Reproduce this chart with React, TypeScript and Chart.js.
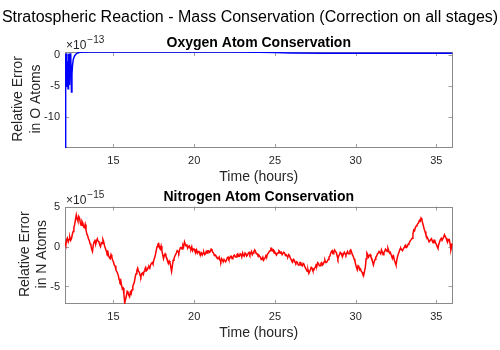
import React, { useEffect, useRef } from "react";
import { Chart, registerables } from "chart.js";

Chart.register(...registerables);

// ---------------- data ----------------
const MAIN_TITLE = "Stratospheric Reaction - Mass Conservation (Correction on all stages)";
const X_LABEL = "Time (hours)";
const X_MIN = 12;
const X_MAX = 36;
const X_TICKS = [15, 20, 25, 30, 35];

const O_TITLE = "Oxygen Atom Conservation";
const O_YLABEL = ["Relative Error", "in O Atoms"];
const O_EXPONENT = "\u221213";
const O_Y_MIN = -14.9;
const O_Y_MAX = 0.5;
const O_Y_TICKS = [-10, -5, 0];
const O_TIMES = [
  12.0, 12.02, 12.04, 12.06, 12.08, 12.1, 12.13, 12.16, 12.19, 12.22, 12.25, 12.28,
  12.31, 12.34, 12.37, 12.4, 12.43, 12.47, 12.52, 12.6, 12.7, 12.8, 12.9, 13.5,
  15, 17, 20, 22, 24, 25, 26, 28, 30, 32, 34, 36,
];
const O_VALUES = [
  -14.9, 0.2, -11.5, -2.0, -4.5, 0.3, -5.0, -1.0, -5.4, 0.2, -3.5, -4.8,
  0.3, -2.0, 0.1, -5.9, -3.0, -1.5, -0.6, -0.1, 0.2, 0.35, 0.44, 0.48,
  0.5, 0.49, 0.48, 0.48, 0.46, 0.4, 0.33, 0.3, 0.31, 0.3, 0.31, 0.3,
];

const N_TITLE = "Nitrogen Atom Conservation";
const N_YLABEL = ["Relative Error", "in N Atoms"];
const N_EXPONENT = "\u221215";
const N_Y_MIN = -7.2;
const N_Y_MAX = 5.05;
const N_Y_TICKS = [-5, 0, 5];
const N_T0 = 12;
const N_DT = 0.05;
const N_VALUES = [
  0.5, 0.2, 0.9, 1.1, 0.6, 0.9, 1.2, 0.8, 1.0, 1.5, 1.9, 2.4, 2.8, 3.4, 4.0, 3.5, 3.2, 3.8, 3.6, 3.0,
  2.7, 3.2, 3.0, 2.5, 2.4, 2.8, 2.1, 1.6, 1.4, 1.0, 0.8, 0.4, 0.2, -0.3, -0.6, 0.2, 0.6, 0.9, 0.3, 0.7,
  1.0, 0.7, 0.6, 0.2, 0.0, 0.5, 0.4, 0.9, 0.6, 0.1, -0.2, -0.5, -0.8, -0.6, -1.1, -1.4, -1.5, -1.0, -1.3, -1.7,
  -1.9, -2.3, -2.4, -2.9, -3.1, -3.3, -3.6, -4.1, -4.4, -4.2, -4.8, -5.3, -5.2, -6.0, -7.1, -6.6, -6.2, -5.6, -5.7, -6.1,
  -6.3, -5.7, -5.9, -5.4, -5.0, -4.7, -4.4, -3.8, -3.4, -3.0, -2.7, -3.1, -3.2, -3.6, -3.8, -3.4, -3.3, -3.5, -3.1, -2.8,
  -2.6, -3.0, -2.9, -2.6, -2.5, -2.7, -2.3, -2.1, -2.0, -2.2, -1.7, -1.4, -1.0, -0.5, 0.0, 0.3, 0.4, -0.1, -0.3, 0.1,
  -0.5, -1.0, -1.5, -1.1, -0.9, -1.2, -1.4, -1.8, -2.1, -1.8, -2.0, -2.5, -3.1, -2.4, -1.7, -1.5, -1.2, -1.0, -0.8, -0.5,
  -0.6, -0.8, -0.4, -0.1, -0.1, -0.3, 0.2, 0.0, 0.6, 0.3, 0.1, 0.3, -0.2, 0.0, 0.1, -0.2, -0.3, 0.0, -0.5, -0.3,
  -0.3, -0.6, -0.7, -0.4, -0.8, -0.6, -0.6, -0.9, -1.0, -0.8, -1.05, -0.8, -0.7, -1.0, -0.9, -0.6, -0.8, -0.5, -0.5, -0.7,
  -0.6, -0.3, -0.4, -0.7, -0.8, -1.1, -1.05, -1.2, -1.3, -1.5, -1.5, -1.3, -1.7, -1.9, -1.5, -1.7, -1.9, -1.6, -1.6, -1.9,
  -1.7, -1.4, -1.3, -1.6, -1.5, -1.2, -1.2, -1.5, -1.4, -1.1, -1.05, -1.3, -1.3, -1.0, -0.9, -1.2, -1.2, -0.9, -1.0, -1.3,
  -0.8, -1.1, -1.2, -0.8, -0.9, -1.2, -1.1, -0.8, -0.7, -1.0, -0.8, -0.6, -1.0, -0.8, -0.6, -0.4, -0.6, -0.9, -0.9, -1.1,
  -1.05, -1.2, -1.3, -1.6, -1.5, -1.3, -1.7, -1.5, -1.4, -1.1, -1.2, -0.9, -0.8, -0.6, -0.5, -0.2, -0.2, -0.5, -0.4, -0.8,
  -0.7, -0.9, -1.05, -0.8, -0.8, -0.5, -0.6, -0.8, -0.7, -1.0, -1.0, -0.7, -0.8, -1.1, -1.0, -1.2, -1.26, -1.0, -1.1, -1.4,
  -1.6, -1.8, -1.9, -1.6, -1.7, -2.0, -2.1, -1.9, -2.0, -2.3, -2.3, -2.0, -2.0, -2.3, -2.4, -2.1, -2.2, -2.5, -2.7, -2.9,
  -3.1, -2.9, -3.35, -3.1, -2.9, -2.6, -2.7, -3.0, -3.0, -2.7, -2.6, -2.3, -2.4, -2.0, -2.1, -2.4, -2.4, -2.1, -2.0, -2.3,
  -2.2, -1.9, -1.7, -2.0, -2.0, -1.8, -1.6, -1.3, -1.2, -0.9, -0.6, -0.5, -0.9, -0.6, -0.4, -0.6, -0.7, -1.1, -1.5, -1.2,
  -1.0, -0.7, -0.8, -1.1, -1.2, -0.9, -0.7, -0.9, -1.05, -0.8, -0.6, -0.9, -0.9, -0.5, -0.4, -0.7, -1.0, -1.2, -1.5, -1.8,
  -2.2, -2.6, -2.9, -2.4, -2.5, -2.9, -2.8, -3.1, -3.2, -3.5, -3.6, -3.1, -2.6, -1.5, -0.8, -1.0, -1.3, -1.1, -1.0, -1.3,
  -1.5, -1.9, -2.3, -1.9, -1.6, -1.3, -1.2, -0.9, -0.8, -0.6, -0.6, -0.9, -0.4, -0.7, -1.0, -0.7, -0.6, -0.3, -0.4, -0.6,
  -0.2, -0.5, -0.8, -0.7, -1.0, -1.3, -1.4, -1.2, -1.7, -2.0, -2.3, -1.7, -1.2, -0.9, -0.6, -0.3, -0.2, -0.4, -0.5, -0.3,
  -0.1, 0.1, 0.2, -0.1, 0.0, 0.3, 0.4, 0.6, 0.8, 0.9, 1.05, 1.6, 2.1, 2.0, 2.4, 2.6, 2.7, 2.9, 3.0, 3.3,
  3.2, 3.6, 3.4, 3.0, 2.6, 2.2, 1.9, 1.5, 1.3, 1.1, 0.9, 0.6, 0.6, 0.9, 1.0, 0.7, 0.5, 0.8, 0.8, 0.5,
  0.3, 0.0, -0.2, 0.3, 0.6, 0.9, 1.05, 0.8, 0.8, 1.2, 1.5, 1.3, 1.1, 0.8, 0.6, 0.9, 0.9, 0.4, -0.4, 0.0,
  0.4,
];
const N_TIMES = N_VALUES.map((_, i) => N_T0 + i * N_DT);

// ---------------- layout / style ----------------
const W = 500;
const H = 350;
const FONT = '"Liberation Sans", Arial, Helvetica, sans-serif';
const TEXT = "#262626";
const BOX = "#8a8a8a";
const TICK = "#a0a0a0";
const PLOT_LEFT = 65;
const PLOT_RIGHT = 452.5;
const X_AXIS_H = 30;

type Sub = {
  times: number[];
  values: number[];
  color: string;
  top: number;
  bottom: number;
  yMin: number;
  yMax: number;
  yTicks: number[];
  title: string;
  yLabel: string[];
  exponent: string;
  labelX: number[];
  drawMain: boolean;
};

const SUBS: Sub[] = [
  {
    times: O_TIMES,
    values: O_VALUES,
    color: "#0000ff",
    top: 52,
    bottom: 148,
    yMin: O_Y_MIN,
    yMax: O_Y_MAX,
    yTicks: O_Y_TICKS,
    title: O_TITLE,
    yLabel: O_YLABEL,
    exponent: O_EXPONENT,
    labelX: [22, 39.5],
    drawMain: true,
  },
  {
    times: N_TIMES,
    values: N_VALUES,
    color: "#ff0000",
    top: 206.5,
    bottom: 304,
    yMin: N_Y_MIN,
    yMax: N_Y_MAX,
    yTicks: N_Y_TICKS,
    title: N_TITLE,
    yLabel: N_YLABEL,
    exponent: N_EXPONENT,
    labelX: [28.5, 45.5],
    drawMain: false,
  },
];

function makeConfig(sp: Sub): any {
  const boxPlugin = {
    id: "boxPlugin",
    beforeDatasetsDraw(chart: any) {
      const { ctx, chartArea: a, scales } = chart;
      ctx.save();
      ctx.lineWidth = 1;
      ctx.strokeStyle = TICK;
      ctx.beginPath();
      X_TICKS.forEach((v) => {
        const px = Math.round(scales.x.getPixelForValue(v)) + 0.5;
        ctx.moveTo(px, a.bottom);
        ctx.lineTo(px, a.bottom - 4);
        ctx.moveTo(px, a.top);
        ctx.lineTo(px, a.top + 4);
      });
      sp.yTicks.forEach((v) => {
        const py = Math.round(scales.y.getPixelForValue(v)) + 0.5;
        ctx.moveTo(a.left, py);
        ctx.lineTo(a.left + 4, py);
        ctx.moveTo(a.right, py);
        ctx.lineTo(a.right - 4, py);
      });
      ctx.stroke();
      ctx.strokeStyle = BOX;
      const l = Math.round(a.left) + 0.5;
      const r = Math.round(a.right) - 0.5;
      const t = Math.round(a.top) + 0.5;
      const b = Math.round(a.bottom) - 0.5;
      ctx.strokeRect(l, t, r - l, b - t);
      ctx.restore();
    },
  };

  const textPlugin = {
    id: "textPlugin",
    afterDraw(chart: any) {
      const { ctx, chartArea: a } = chart;
      ctx.save();
      ctx.fillStyle = TEXT;
      if (sp.drawMain) {
        ctx.font = `16px ${FONT}`;
        ctx.textAlign = "center";
        ctx.textBaseline = "alphabetic";
        ctx.fillStyle = "#000000";
        ctx.fillText(MAIN_TITLE, W / 2, 21.5);
        ctx.fillStyle = TEXT;
      }
      // subplot title
      ctx.font = `bold 14px ${FONT}`;
      ctx.textAlign = "center";
      ctx.textBaseline = "alphabetic";
      ctx.fillStyle = "#000000";
      ctx.fillText(sp.title, (a.left + a.right) / 2, a.top - 5.5);
      ctx.fillStyle = TEXT;
      // exponent
      ctx.textAlign = "left";
      ctx.font = `12px ${FONT}`;
      ctx.fillText("\u00d710", a.left + 1, a.top - 2.8);
      const w = ctx.measureText("\u00d710").width;
      ctx.font = `10px ${FONT}`;
      ctx.fillText(sp.exponent, a.left + 1 + w + 1, a.top - 9);
      // x label
      ctx.font = `14px ${FONT}`;
      ctx.textAlign = "center";
      ctx.fillText(X_LABEL, (a.left + a.right) / 2, a.bottom + 32.7);
      // y label
      const cy = (a.top + a.bottom) / 2 - 1;
      sp.yLabel.forEach((line, i) => {
        ctx.save();
        ctx.translate(sp.labelX[i], cy);
        ctx.rotate(-Math.PI / 2);
        ctx.textAlign = "center";
        ctx.textBaseline = "alphabetic";
        ctx.fillText(line, 0, 0);
        ctx.restore();
      });
      ctx.restore();
    },
  };

  return {
    type: "line",
    data: {
      datasets: [
        {
          data: sp.times.map((t, i) => ({ x: t, y: sp.values[i] })),
          borderColor: sp.color,
          backgroundColor: sp.color,
          borderWidth: 1.5,
          pointRadius: 0,
          fill: false,
          tension: 0,
        },
      ],
    },
    options: {
      animation: false,
      responsive: false,
      maintainAspectRatio: false,
      events: [],
      layout: {
        padding: {
          left: 0,
          right: W - PLOT_RIGHT,
          top: sp.top,
          bottom: H - sp.bottom - X_AXIS_H,
        },
      },
      plugins: {
        legend: { display: false },
        tooltip: { enabled: false },
        title: { display: false },
      },
      scales: {
        x: {
          type: "linear",
          min: X_MIN,
          max: X_MAX,
          grid: { display: false, drawTicks: false },
          border: { display: false },
          ticks: {
            font: { family: FONT, size: 11 },
            color: TEXT,
            padding: 6,
            maxRotation: 0,
            autoSkip: false,
          },
          afterBuildTicks: (s: any) => {
            s.ticks = X_TICKS.map((v) => ({ value: v }));
          },
          afterFit: (s: any) => {
            s.height = X_AXIS_H;
            s.paddingLeft = 0;
            s.paddingRight = 0;
          },
        },
        y: {
          type: "linear",
          min: sp.yMin,
          max: sp.yMax,
          grid: { display: false, drawTicks: false },
          border: { display: false },
          ticks: {
            font: { family: FONT, size: 11 },
            color: TEXT,
            padding: 5,
            autoSkip: false,
          },
          afterBuildTicks: (s: any) => {
            s.ticks = sp.yTicks.map((v) => ({ value: v }));
          },
          afterFit: (s: any) => {
            s.width = PLOT_LEFT;
            s.paddingTop = 0;
            s.paddingBottom = 0;
          },
        },
      },
    },
    plugins: [boxPlugin, textPlugin],
  };
}

export default function App() {
  const ref1 = useRef<HTMLCanvasElement | null>(null);
  const ref2 = useRef<HTMLCanvasElement | null>(null);

  useEffect(() => {
    const charts: Chart[] = [];
    [ref1.current, ref2.current].forEach((c, i) => {
      if (c) charts.push(new Chart(c, makeConfig(SUBS[i])));
    });
    return () => charts.forEach((c) => c.destroy());
  }, []);

  const canvasStyle: React.CSSProperties = {
    position: "absolute",
    left: 0,
    top: 0,
    width: W,
    height: H,
  };

  return (
    <div
      style={{
        position: "fixed",
        left: 0,
        top: 0,
        width: W,
        height: H,
        background: "#ffffff",
      }}
    >
      <canvas ref={ref1} width={W} height={H} style={canvasStyle} />
      <canvas ref={ref2} width={W} height={H} style={canvasStyle} />
    </div>
  );
}
